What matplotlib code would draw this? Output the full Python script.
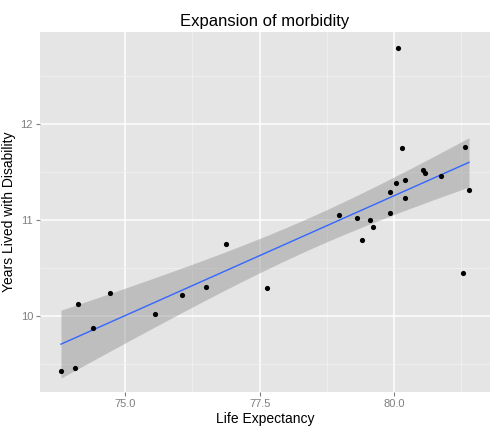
import numpy as np
import matplotlib
matplotlib.use("Agg")
import matplotlib.pyplot as plt
plt.rcParams['font.family'] = ['Liberation Sans', 'DejaVu Sans']

life_exp = [73.81,74.07,74.13,74.41,74.72,75.56,76.06,76.51,76.88,77.63,78.97,79.31,79.40,79.55,79.61,
            79.93,79.93,80.04,80.07,80.15,80.20,80.20,80.54,80.58,80.87,81.28,81.32,81.39]
yld = [9.43,9.46,10.125,9.875,10.24,10.02,10.22,10.30,10.75,10.29,11.05,11.02,10.79,11.0,10.93,
       11.29,11.07,11.385,12.79,11.75,11.42,11.23,11.52,11.49,11.46,10.45,11.76,11.31]

x = np.array(life_exp); y = np.array(yld)
n = len(x)
b, a = np.polyfit(x, y, 1)
res = y - (a + b*x)
s = np.sqrt(np.sum(res**2)/(n-2))
xs = np.linspace(x.min(), x.max(), 100)
yh = a + b*xs
se = s*np.sqrt(1/n + (xs-x.mean())**2/np.sum((x-x.mean())**2))
t = 2.056
fig = plt.figure(figsize=(5.04,4.32), dpi=100)
ax = fig.add_axes([40/504, 40/432, 450/504, 360/432])
ax.set_facecolor('#E5E5E5')
ax.fill_between(xs, yh-t*se, yh+t*se, color='#999999', alpha=0.5, lw=0, zorder=2)
ax.plot(xs, yh, color='#3366FF', lw=1, zorder=3)
ax.scatter(x, y, s=14, color='black', zorder=4, lw=0)
ax.set_xlim(73.42, 81.78); ax.set_ylim(9.21, 12.96)
ax.set_xticks([75,77.5,80]); ax.set_xticklabels(['75.0','77.5','80.0'])
ax.set_yticks([10,11,12])
ax.set_xticks([76.25,78.75,81.25], minor=True)
ax.set_yticks([9.5,10.5,11.5,12.5], minor=True)
ax.grid(which='major', color='white', lw=1.1, zorder=1)
ax.grid(which='minor', color='#F2F2F2', lw=0.5, zorder=1)
ax.set_axisbelow(True)
for sp in ax.spines.values(): sp.set_visible(False)
ax.tick_params(which='both', length=3, color='#7F7F7F', labelsize=8, labelcolor='#7F7F7F', pad=2)
ax.tick_params(which='minor', length=0)
ax.set_xlabel('Life Expectancy', fontsize=10, labelpad=2)
ax.set_ylabel('Years Lived with Disability', fontsize=10, labelpad=3)
ax.set_title('Expansion of morbidity', fontsize=12, pad=4)
fig.savefig('out.png', dpi=100)
